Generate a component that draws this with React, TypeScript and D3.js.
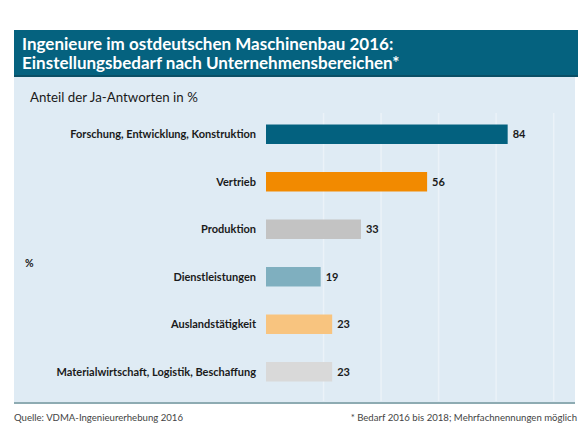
import React from "react";
import * as d3 from "d3";

// Unternehmensbereiche und Anteil der Ja-Antworten in %
const categories = [
  "Forschung, Entwicklung, Konstruktion",
  "Vertrieb",
  "Produktion",
  "Dienstleistungen",
  "Auslandstätigkeit",
  "Materialwirtschaft, Logistik, Beschaffung",
];
const values = [84, 56, 33, 19, 23, 23];
const barColors = ["#03617f", "#f28a00", "#c3c3c3", "#7fafbf", "#f8c47f", "#d9d9d9"];
const gridTicks = [20, 40, 60, 80, 100];

const titleLines = [
  "Ingenieure im ostdeutschen Maschinenbau 2016:",
  "Einstellungsbedarf nach Unternehmensbereichen*",
];

export default function App() {
  const width = 580,
    height = 428;

  const x = d3.scaleLinear().domain([0, 100]).range([266, 553.7]);
  const y = d3
    .scaleBand()
    .domain(categories)
    .range([110.5, 395.5])
    .paddingInner(0.59)
    .paddingOuter(0.295);

  const font = "Lato, 'Open Sans', sans-serif";

  return (
    <div style={{ position: "absolute", left: 0, top: 0 }}>
      <svg width={width} height={height} style={{ display: "block" }} fontFamily={font}>
        <rect width={width} height={height} fill="#ffffff" />
        {/* Panel */}
        <rect x={14} y={77} width={561} height={326} fill="#dfebf4" />
        <rect x={14} y={402} width={561} height={2} fill="#8eabb2" />
        {/* Title band */}
        <rect x={14} y={30} width={564} height={47} fill="#05627f" />
        <rect x={14} y={75} width={564} height={2} fill="#0a4f66" />
        {titleLines.map((t, i) => (
          <text key={i} x={22} y={50 + i * 19} fill="#ffffff" fontSize={17} fontWeight={700}>
            {t}
          </text>
        ))}
        <text x={30} y={102} fill="#1a1a1a" fontSize={13.3}>
          Anteil der Ja-Antworten in %
        </text>
        {/* Gridlines */}
        {gridTicks.map((t) => (
          <line
            key={t}
            x1={x(t)}
            x2={x(t)}
            y1={113}
            y2={401}
            stroke="#ebf2f8"
            strokeWidth={1.5}
          />
        ))}
        <text x={25} y={267} fontSize={10.5} fontWeight={700} fill="#1a1a1a">
          %
        </text>
        {categories.map((c, i) => {
          const yy = y(c)!;
          const bw = y.bandwidth();
          return (
            <g key={c}>
              <rect x={x(0)} y={yy} width={x(values[i]) - x(0)} height={bw} fill={barColors[i]} />
              <text
                x={256}
                y={yy + bw / 2}
                dy="0.35em"
                textAnchor="end"
                fontSize={11}
                fontWeight={700}
                fill="#1a1a1a"
              >
                {c}
              </text>
              <text
                x={x(values[i]) + 5}
                y={yy + bw / 2}
                dy="0.35em"
                fontSize={11}
                fontWeight={700}
                fill="#1a1a1a"
              >
                {values[i]}
              </text>
            </g>
          );
        })}
        {/* Footer */}
        <text x={14} y={421} fontSize={9.6} fill="#444444">
          Quelle: VDMA-Ingenieurerhebung 2016
        </text>
        <text x={577} y={421} fontSize={9.6} fill="#444444" textAnchor="end">
          * Bedarf 2016 bis 2018; Mehrfachnennungen möglich
        </text>
      </svg>
    </div>
  );
}
